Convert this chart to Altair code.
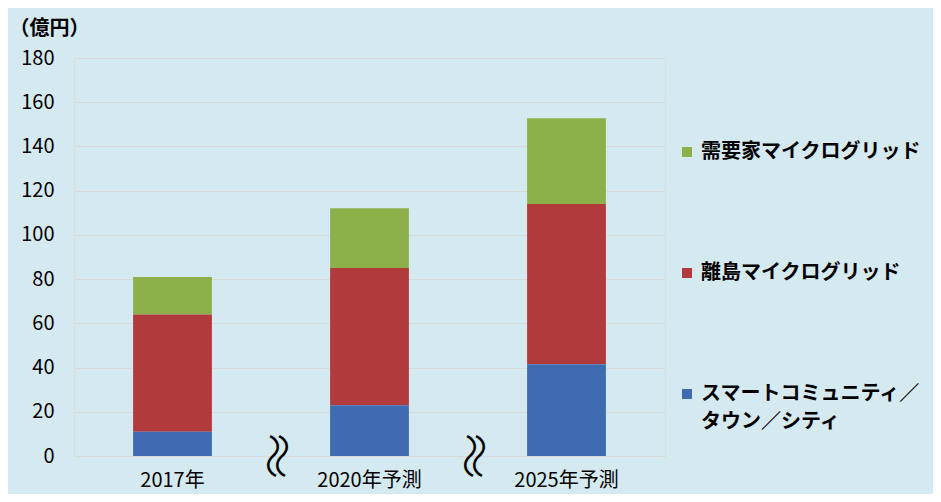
import altair as alt
import pandas as pd

categories = ["2017年", "2020年予測", "2025年予測"]
series_names = ["需要家マイクログリッド", "離島マイクログリッド", "スマートコミュニティ／タウン／シティ"]
demand_values = [17.0, 27.0, 38.7]   # 需要家マイクログリッド (top, green)
island_values = [53.0, 62.0, 72.5]   # 離島マイクログリッド (middle, red)
smart_values = [11.0, 23.0, 41.5]    # スマートコミュニティ／タウン／シティ (bottom, blue)
series_colors = ["#8DB04B", "#B03A3C", "#3F6CB0"]
stack_rank = [3, 2, 1]
y_tick_values = [0, 20, 40, 60, 80, 100, 120, 140, 160, 180]
break_after = ["2017年", "2020年予測"]

rows = []
for vals, name, rank in zip([demand_values, island_values, smart_values], series_names, stack_rank):
    for cat, v in zip(categories, vals):
        rows.append({"year": cat, "series": name, "value": v, "rank": rank})
df = pd.DataFrame(rows)
df_break = pd.DataFrame({"year": break_after, "zero": [0] * len(break_after)})

num_font = "Liberation Sans Narrow, Arial Narrow, Noto Sans CJK JP"
jp_font = "Noto Sans CJK JP"

x_enc = alt.X(
    "year:N",
    sort=categories,
    scale=alt.Scale(paddingInner=0.6, paddingOuter=0.3),
    axis=alt.Axis(
        title=None, labelAngle=0, domain=False, ticks=False,
        labelFont=num_font, labelFontSize=20, labelColor="#000000",
        labelPadding=14,
    ),
)

label_expr = (
    "datum.label == 'スマートコミュニティ／タウン／シティ' ? "
    "['スマートコミュニティ／', 'タウン／シティ'] : datum.label"
)

bars = alt.Chart(df).mark_bar().encode(
    x=x_enc,
    y=alt.Y(
        "sum(value):Q",
        stack="zero",
        scale=alt.Scale(domain=[0, 180], nice=False),
        axis=alt.Axis(
            values=y_tick_values, title="（億円）", titleAngle=0,
            titleX=-65, titleY=-30, titleAlign="left", titleBaseline="middle",
            titleFont=jp_font, titleFontSize=20, titleFontWeight="bold",
            titleColor="#000000",
            domain=False, ticks=False, grid=True, gridColor="#D9D9D9",
            labelFont=num_font, labelFontSize=20, labelColor="#000000",
            labelPadding=20,
        ),
    ),
    color=alt.Color(
        "series:N",
        scale=alt.Scale(domain=series_names, range=series_colors),
        legend=alt.Legend(
            title=None, orient="none", legendX=603, legendY=84,
            symbolType="square", symbolSize=100, symbolStrokeWidth=0,
            labelFont=jp_font, labelFontSize=20, labelFontWeight="bold",
            labelColor="#000000", labelLimit=400, labelOffset=4,
            rowPadding=101, labelExpr=label_expr, padding=0,
        ),
    ),
    order=alt.Order("rank:Q", sort="ascending"),
)


def wave(shift):
    return alt.Chart(df_break).mark_text(
        text="〜", font=jp_font, fontSize=46, fontWeight=300, angle=90,
        dy=-shift, color="#000000", baseline="middle", align="center",
    ).encode(
        x=alt.X("year:N", sort=categories),
        y=alt.Y("zero:Q"),
    )


chart = alt.layer(bars, wave(97), wave(106)).properties(
    width=591,
    height=398,
    padding={"left": 66, "top": 50, "right": 268, "bottom": 38},
    autosize="none",
    background="#D5E9F0",
).configure_view(
    fill="#FFFFFF", stroke="transparent"
).configure(
    style={"guide-label": {"lineHeight": 28}}
)

chart.save("out.html", embed_options={"renderer": "svg", "actions": False})
